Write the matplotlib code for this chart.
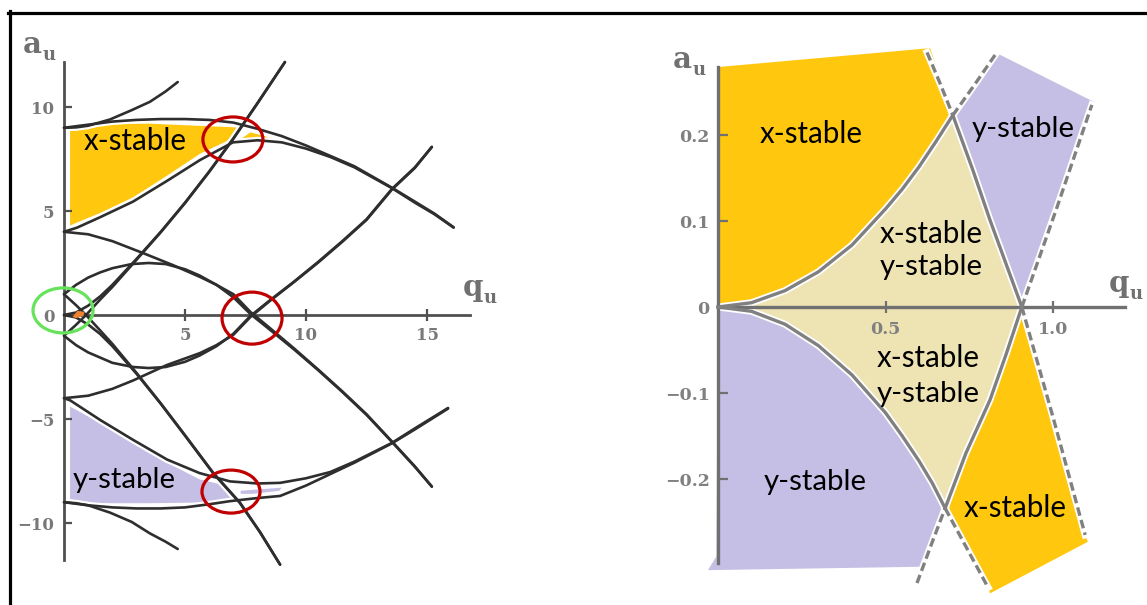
import matplotlib
matplotlib.use("Agg")
import matplotlib.pyplot as plt
from matplotlib.patches import Ellipse, Polygon
from matplotlib.lines import Line2D

W, H = 1147, 605

# ======================= LEFT PANEL DATA (q_u, a_u) =======================
# x-direction characteristic curves
a0_q = [0, 0.5, 1, 1.5, 2, 3, 4, 5, 6.16, 7.27, 8.1, 8.93]
a0_a = [0, -0.12, -0.46, -0.92, -1.5, -2.83, -4.27, -5.8, -7.6, -9.04, -10.45, -12.0]
b1_q = [0, 0.5, 0.91, 1.5, 2, 3, 4, 5, 6.16, 7.27, 8.1, 8.93]
b1_a = [1, 0.47, 0, -0.75, -1.39, -2.79, -4.25, -5.78, -7.58, -9.02, -10.43, -12.0]
a1_q = [0, 0.5, 1, 1.5, 2, 2.8, 3.5, 4.2, 5, 5.6, 6.3, 7, 7.7, 8.5, 9.5, 10.5, 11.5, 12.5, 13.55, 14.5, 15.2]
a1_a = [1, 1.45, 1.8, 2.05, 2.25, 2.45, 2.5, 2.45, 2.2, 1.9, 1.45, 0.85, 0.05, -0.7, -1.65, -2.65, -3.7, -4.8, -6.1, -7.3, -8.25]
b2_q = [0, 1, 2, 3.26, 4.5, 5.62, 6.3, 7, 7.7, 8.5, 9.5, 10.5, 11.5, 12.5, 13.55, 14.5, 15.2]
b2_a = [4, 3.88, 3.55, 2.98, 2.4, 1.83, 1.45, 1.0, 0.15, -0.62, -1.6, -2.62, -3.67, -4.77, -6.08, -7.28, -8.25]
a2_q = [0, 0.54, 1.49, 2.85, 4.26, 5.62, 6.98, 8, 9, 10, 11, 12, 13.55, 14.5, 15.3, 16.1]
a2_a = [4, 4.2, 4.7, 5.45, 6.45, 7.45, 8.3, 8.4, 8.3, 8.0, 7.6, 7.1, 6.1, 5.4, 4.85, 4.2]
b3_q = [0, 1, 2, 3, 4, 5, 6, 7, 8, 9, 10, 11, 12, 13.55, 14.5, 15.3, 16.1]
b3_a = [9.0, 9.15, 9.3, 9.38, 9.42, 9.42, 9.38, 9.25, 8.95, 8.6, 8.15, 7.65, 7.15, 6.12, 5.45, 4.88, 4.22]
a3_q = [0, 0.5, 1, 1.9, 2.8, 3.55, 4.2, 4.7]
a3_a = [9.0, 9.02, 9.1, 9.4, 9.85, 10.25, 10.75, 11.2]

# y-direction characteristic curves
ya0_q = [0, 0.5, 1, 1.5, 2, 3, 4, 5, 6, 6.98, 8, 9.13]
ya0_a = [0, 0.12, 0.45, 0.9, 1.45, 2.7, 4.0, 5.4, 6.9, 8.46, 10.2, 12.16]
yb1_q = [0, 0.5, 0.91, 1.5, 2, 3, 4, 5, 6, 6.98, 8, 9.13]
yb1_a = [-1, -0.47, 0, 0.75, 1.35, 2.66, 3.98, 5.38, 6.88, 8.44, 10.18, 12.16]
ya1_q = [0, 0.5, 1, 1.5, 2, 2.85, 3.5, 4.2, 5, 5.6, 6.3, 7, 7.7, 8.5, 9.5, 10.5, 11.5, 12.5, 13.55, 14.5, 15.2]
ya1_a = [-1, -1.45, -1.8, -2.05, -2.3, -2.5, -2.55, -2.5, -2.25, -1.95, -1.5, -0.9, -0.05, 0.7, 1.6, 2.55, 3.55, 4.6, 6.06, 7.1, 8.08]
yb2_q = [0, 1, 2, 2.85, 4.26, 5.62, 6.3, 7, 7.7, 8.5, 9.5, 10.5, 11.5, 12.5, 13.55, 14.5, 15.2]
yb2_a = [-4, -3.88, -3.55, -3.15, -2.4, -1.83, -1.45, -0.95, -0.1, 0.67, 1.58, 2.52, 3.52, 4.57, 6.03, 7.07, 8.08]
ya2_q = [0, 0.25, 1.5, 2.85, 4.26, 5.6, 6.86, 8, 8.93, 10, 11, 12, 13.55, 14.5, 15.87]
ya2_a = [-4, -4.1, -5.05, -6.0, -6.95, -7.6, -8.0, -8.1, -8.07, -7.85, -7.55, -7.05, -6.15, -5.45, -4.47]
yb3_q = [0, 1, 2, 3, 4, 5, 6, 6.86, 8, 8.93, 10, 11, 12, 13.55, 14.5, 15.87]
yb3_a = [-9.0, -9.15, -9.25, -9.3, -9.3, -9.25, -9.1, -8.95, -8.8, -8.7, -8.2, -7.65, -7.1, -6.17, -5.5, -4.5]
ya3_q = [0, 0.5, 1, 1.9, 2.8, 3.55, 4.2, 4.7]
ya3_a = [-9.0, -9.05, -9.15, -9.5, -9.95, -10.5, -10.9, -11.25]

# shaded regions (left)
xst_q = [0.25, 3.5, 7.1, 7.2, 6.98, 5.62, 4.26, 2.85, 1.49, 0.54, 0.25]
xst_a = [9.18, 9.2, 9.02, 8.75, 8.5, 7.75, 6.7, 5.65, 4.9, 4.45, 4.3]
xsl_q = [7.3, 7.7, 8.3, 8.8, 8.0, 7.3]
xsl_a = [8.45, 8.78, 8.6, 8.3, 8.35, 8.35]
yst_q = [0.25, 1.5, 2.85, 4.26, 5.6, 6.86, 7.05, 6.86, 3.5, 0.25]
yst_a = [-4.4, -5.2, -6.15, -7.1, -7.9, -8.25, -8.7, -9.0, -9.05, -9.05]
ysl_q = [7.3, 9.0, 8.9, 7.8, 7.3]
ysl_a = [-8.45, -8.3, -8.45, -8.6, -8.6]
org_q = [0.35, 0.55, 0.85, 0.8, 0.5]
org_a = [-0.1, 0.2, 0.15, -0.05, -0.15]

L_xticks = [5, 10, 15]
L_yticks = [-10, -5, 0, 5, 10]
L_ylabels = ["\u221210", "\u22125", "0", "5", "10"]

# ======================= RIGHT PANEL DATA (zoom) =======================
r_ya0_q = [0, 0.1, 0.2, 0.3, 0.4, 0.5, 0.55, 0.6, 0.65, 0.701]           # -a0 (solid)
r_ya0_a = [0, 0.005, 0.019, 0.041, 0.072, 0.114, 0.137, 0.163, 0.192, 0.223]
r_ya0d_q = [0.701, 0.765, 0.827]                                          # -a0 (dashed)
r_ya0d_a = [0.223, 0.258, 0.293]
r_b1d1_q = [0.624, 0.663, 0.701]                                          # b1 dashed (upper)
r_b1d1_a = [0.296, 0.26, 0.223]
r_b1_q = [0.701, 0.76, 0.812, 0.86, 0.907]                                # b1 solid
r_b1_a = [0.223, 0.16, 0.101, 0.05, 0.0]
r_b1d2_q = [0.907, 1.0, 1.096]                                            # b1 dashed (lower)
r_b1d2_a = [0.0, -0.128, -0.265]
r_yb1_q = [0.678, 0.74, 0.812, 0.86, 0.907]                               # -b1 solid
r_yb1_a = [-0.234, -0.17, -0.108, -0.055, 0.0]
r_yb1d1_q = [0.594, 0.636, 0.678]                                         # -b1 dashed (lower)
r_yb1d1_a = [-0.321, -0.277, -0.234]
r_yb1d2_q = [0.907, 1.012, 1.116]                                         # -b1 dashed (upper)
r_yb1d2_a = [0.0, 0.116, 0.235]
r_a0_q = [0, 0.1, 0.2, 0.3, 0.4, 0.5, 0.55, 0.6, 0.64, 0.678]             # a0 solid
r_a0_a = [0, -0.005, -0.02, -0.045, -0.079, -0.123, -0.15, -0.179, -0.205, -0.234]
r_a0d_q = [0.678, 0.742, 0.806]                                           # a0 dashed
r_a0d_a = [-0.234, -0.28, -0.326]

R_xticks = [0.5, 1.0]
R_xlabels = ["0.5", "1.0"]
R_yticks = [-0.2, -0.1, 0, 0.1, 0.2]
R_ylabels = ["\u22120.2", "\u22120.1", "0", "0.1", "0.2"]

YELLOW = "#FFC70E"
LAVENDER = "#C6BFE5"
BEIGE = "#EEE3B3"

fig = plt.figure(figsize=(W / 100, H / 100), dpi=100)

# ---------------- left axes: px = 64 + 24.2 q ; py = 315 - 20.8 a ----------------
axL = fig.add_axes([0, 0, 560 / W, 1])
axL.set_xlim((0 - 64) / 24.2, (560 - 64) / 24.2)
axL.set_ylim((315 - 605) / 20.8, 315 / 20.8)
axL.patch.set_alpha(0)

for qq, aa, col in [(xst_q, xst_a, YELLOW), (xsl_q, xsl_a, YELLOW),
                    (yst_q, yst_a, LAVENDER), (ysl_q, ysl_a, LAVENDER)]:
    axL.add_patch(Polygon(list(zip(qq, aa)), closed=True, fc=col, ec="none", zorder=1))

left_curves = [(a0_q, a0_a), (b1_q, b1_a), (a1_q, a1_a), (b2_q, b2_a), (a2_q, a2_a),
               (b3_q, b3_a), (a3_q, a3_a), (ya0_q, ya0_a), (yb1_q, yb1_a), (ya1_q, ya1_a),
               (yb2_q, yb2_a), (ya2_q, ya2_a), (yb3_q, yb3_a), (ya3_q, ya3_a)]
for qq, aa in left_curves:
    axL.plot(qq, aa, color="white", lw=5.0, solid_capstyle="round", zorder=2)
for qq, aa in left_curves:
    axL.plot(qq, aa, color="#2e2e2e", lw=1.9, solid_capstyle="round", zorder=3)

axL.add_patch(Polygon(list(zip(org_q, org_a)), closed=True, fc="#EE8030", ec="none", zorder=3.5))

for s in ["top", "right"]:
    axL.spines[s].set_visible(False)
axL.spines["left"].set_position(("data", 0))
axL.spines["bottom"].set_position(("data", 0))
axL.spines["left"].set_bounds((315 - 560) / 20.8, (315 - 62) / 20.8)
axL.spines["bottom"].set_bounds(0, (470 - 64) / 24.2)
for s in ["left", "bottom"]:
    axL.spines[s].set_color("#505050")
    axL.spines[s].set_linewidth(2.0)
    axL.spines[s].set_zorder(2.5)
axL.set_xticks(L_xticks)
axL.set_xticklabels([str(v) for v in L_xticks])
axL.set_yticks(L_yticks)
axL.set_yticklabels(L_ylabels)
axL.tick_params(axis="x", direction="inout", length=8, width=1.6, color="#505050", pad=5)
axL.tick_params(axis="y", direction="in", length=6, width=1.6, color="#505050", pad=7)
for lab in axL.get_xticklabels() + axL.get_yticklabels():
    lab.set_fontfamily("DejaVu Serif")
    lab.set_fontweight("bold")
    lab.set_fontsize(12)
    lab.set_color("#787878")

for cx, cy, w, h, col in [(6.98, 8.44, 60 / 24.2, 45 / 20.8, "#C00000"),
                          (7.77, -0.15, 60 / 24.2, 52 / 20.8, "#C00000"),
                          (6.9, -8.49, 58 / 24.2, 43 / 20.8, "#C00000"),
                          (-0.04, 0.22, 60 / 24.2, 45 / 20.8, "#66E35A")]:
    axL.add_patch(Ellipse((cx, cy), w, h, fill=False, ec=col, lw=2.3, zorder=4))

# ---------------- right axes: px = 718 + 335 q ; py = 307 - 860 a ----------------
axR = fig.add_axes([600 / W, 0, 547 / W, 1])
axR.set_xlim((600 - 718) / 335, (1147 - 718) / 335)
axR.set_ylim((307 - 605) / 860, 307 / 860)
axR.patch.set_alpha(0)

ul_x = [(0, 0.279), (0.633, 0.301)] + list(zip(r_ya0_q[::-1], r_ya0_a[::-1]))
ur_y = ([(0.701, 0.223), (0.833, 0.295), (1.125, 0.238)]
        + list(zip(r_yb1d2_q[::-1], r_yb1d2_a[::-1])) + list(zip(r_b1_q[::-1], r_b1_a[::-1])))
mid = (list(zip(r_ya0_q, r_ya0_a)) + list(zip(r_b1_q, r_b1_a))
       + list(zip(r_yb1_q[::-1], r_yb1_a[::-1])) + list(zip(r_a0_q[::-1], r_a0_a[::-1])))
ll_y = list(zip(r_a0_q, r_a0_a)) + [(0.612, -0.302), (-0.03, -0.306), (-0.005, -0.29)]
lr_x = (list(zip(r_yb1_q[::-1], r_yb1_a[::-1])) + list(zip(r_a0d_q, r_a0d_a))
        + [(0.812, -0.333), (1.104, -0.273)] + list(zip(r_b1d2_q[::-1], r_b1d2_a[::-1])))
for poly, col in [(ul_x, YELLOW), (ur_y, LAVENDER), (mid, BEIGE), (ll_y, LAVENDER), (lr_x, YELLOW)]:
    axR.add_patch(Polygon(poly, closed=True, fc=col, ec="none", zorder=1))

solid_R = [(r_ya0_q, r_ya0_a), (r_b1_q, r_b1_a), (r_yb1_q, r_yb1_a), (r_a0_q, r_a0_a)]
dashed_R = [(r_ya0d_q, r_ya0d_a), (r_b1d1_q, r_b1d1_a), (r_b1d2_q, r_b1d2_a),
            (r_yb1d1_q, r_yb1d1_a), (r_yb1d2_q, r_yb1d2_a), (r_a0d_q, r_a0d_a)]
for qq, aa in solid_R + dashed_R:
    axR.plot(qq, aa, color="white", lw=5.0, zorder=2)
for qq, aa in solid_R:
    axR.plot(qq, aa, color="#808080", lw=2.4, zorder=3)
for qq, aa in dashed_R:
    axR.plot(qq, aa, color="#808080", lw=2.4, ls=(0, (2.6, 1.3)), zorder=3)

for s in ["top", "right"]:
    axR.spines[s].set_visible(False)
axR.spines["left"].set_position(("data", 0))
axR.spines["bottom"].set_position(("data", 0))
axR.spines["left"].set_bounds((307 - 563) / 860, (307 - 67) / 860)
axR.spines["bottom"].set_bounds(0, (1125 - 718) / 335)
for s in ["left", "bottom"]:
    axR.spines[s].set_color("#707070")
    axR.spines[s].set_linewidth(2.4)
    axR.spines[s].set_zorder(2.5)
axR.set_xticks(R_xticks)
axR.set_xticklabels(R_xlabels)
axR.set_yticks(R_yticks)
axR.set_yticklabels(R_ylabels)
axR.tick_params(axis="x", direction="inout", length=8, width=1.6, color="#707070", pad=6)
axR.tick_params(axis="y", direction="in", length=7, width=1.6, color="#707070", pad=6)
for lab in axR.get_xticklabels() + axR.get_yticklabels():
    lab.set_fontfamily("DejaVu Serif")
    lab.set_fontweight("bold")
    lab.set_fontsize(12.5)
    lab.set_color("#808080")


def fx(x):
    return x / W


def fy(y):
    return 1 - y / H


# ---------------- axis names (main letter + subscript u placed after it) ----------------
fig.canvas.draw()
rend = fig.canvas.get_renderer()
for (x0, y0, main, sub_dy) in [(23, 53, "a", 7), (673, 68, "a", 7),
                               (463, 296, "q", 7), (1109, 292, "q", 7)]:
    t = fig.text(fx(x0), fy(y0), main, fontfamily="DejaVu Serif", fontweight="bold",
                 fontsize=21, color="#707070", ha="left", va="baseline")
    x1 = t.get_window_extent(rend).x1 / W
    fig.text(x1 + 0.5 / W, fy(y0 + sub_dy), "u", fontfamily="DejaVu Serif", fontweight="bold",
             fontsize=13, color="#707070", ha="left", va="baseline")

# ---------------- region labels ----------------
labels = [("x-stable", 135, 150), ("y-stable", 124, 488),
          ("x-stable", 811, 143), ("y-stable", 1023, 137),
          ("x-stable", 931, 243), ("y-stable", 931, 275),
          ("x-stable", 928, 367), ("y-stable", 928, 402),
          ("y-stable", 815, 490), ("x-stable", 1015, 517)]
texts = []
for s, x, y in labels:
    t = fig.text(fx(x), fy(y), s, fontfamily="Lato", fontsize=21, color="black",
                 ha="center", va="baseline", zorder=10)
    texts.append(t)
for t in texts:
    w = t.get_window_extent(rend).width
    t.set_fontsize(21 * 103 / w)

# ---------------- frame ----------------
fig.add_artist(Line2D([fx(8), 1], [fy(12.5), fy(12.5)], transform=fig.transFigure,
                      color="black", lw=2.3))
fig.add_artist(Line2D([fx(9.5), fx(9.5)], [0, fy(11)], transform=fig.transFigure,
                      color="black", lw=2.3))

fig.savefig("out.png", dpi=100)
